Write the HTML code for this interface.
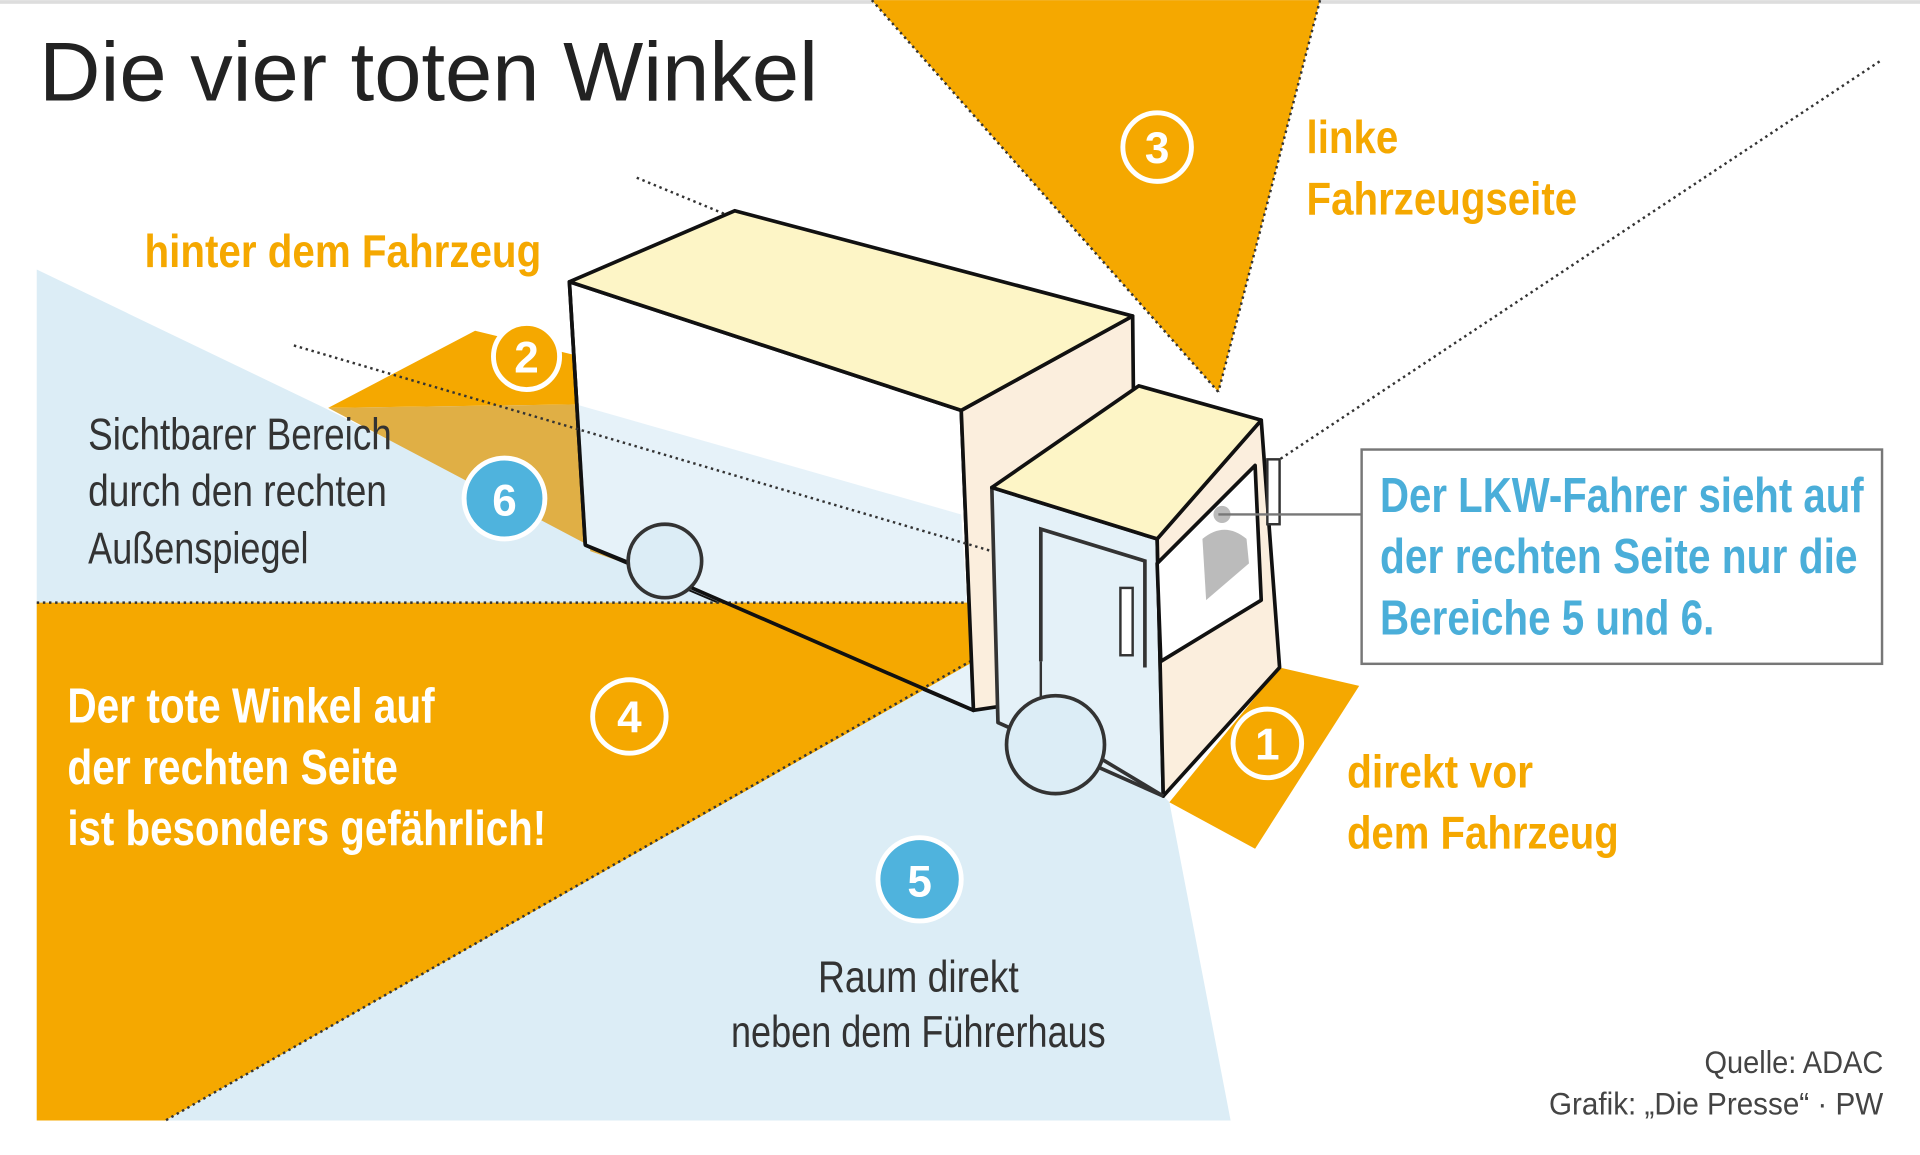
<!DOCTYPE html>
<html><head><meta charset="utf-8"><style>
html,body{margin:0;padding:0;background:#fff;}
svg{display:block;}
text{font-family:"Liberation Sans Narrow","Liberation Sans",sans-serif;}
</style></head><body>
<svg width="1920" height="1155" viewBox="0 0 1568 943" xmlns="http://www.w3.org/2000/svg">
<rect x="0" y="0" width="1568" height="943" fill="#fff"/>
<rect x="0" y="0" width="1568" height="3" fill="#ddd"/>
<polygon points="30,220 265,333 480,440 820,510 955,655 1005,915 30,915" fill="#dcedf6"/>
<polygon points="268,333 388,270 470,290 478,330" fill="#f5a800"/>
<polygon points="268,333 478,330 482,450 505,458" fill="#e0af45"/>
<polygon points="712,0 1078,0 995,320" fill="#f5a800"/>
<line x1="712" y1="0" x2="995" y2="320" stroke="#333" stroke-width="2" stroke-dasharray="2,3"/>
<line x1="1078" y1="0" x2="995" y2="320" stroke="#333" stroke-width="2" stroke-dasharray="2,3"/>
<polygon points="955,655 1045,545 1110,560 1025,693" fill="#f5a800"/>
<line x1="520" y1="145" x2="600" y2="178" stroke="#333" stroke-width="2" stroke-dasharray="2,3"/>
<line x1="1535" y1="50" x2="1030" y2="385" stroke="#333" stroke-width="2" stroke-dasharray="2,3"/>
<!-- truck box side -->
<polygon points="465,230 785,335 795,580 478,445" fill="#fff" stroke="#111" stroke-width="3" stroke-linejoin="round"/>
<polygon points="470,330 785,420 795,580 478,445" fill="#dcedf6" opacity="0.7"/>
<!-- orange 4 -->
<polygon points="30,492 880,492 135,915 30,915" fill="#f5a800"/>
<line x1="30" y1="492" x2="880" y2="492" stroke="#333" stroke-width="2" stroke-dasharray="2,3"/>
<line x1="880" y1="490" x2="135" y2="915" stroke="#333" stroke-width="2" stroke-dasharray="2,3"/>
<!-- box front & top -->
<polygon points="785,335 925,258 928,560 795,580" fill="#fbeedd" stroke="#111" stroke-width="3" stroke-linejoin="round"/>
<polygon points="465,230 600,172 925,258 785,335" fill="#fdf5c6" stroke="#111" stroke-width="3" stroke-linejoin="round"/>
<line x1="465" y1="230" x2="478" y2="445" stroke="#111" stroke-width="3"/>
<line x1="478" y1="445" x2="515" y2="460" stroke="#111" stroke-width="3"/>
<line x1="240" y1="282" x2="905" y2="478" stroke="#333" stroke-width="2" stroke-dasharray="2,3"/>
<circle cx="543" cy="458" r="30" fill="#dcedf6" stroke="#333" stroke-width="3"/>
<line x1="565" y1="480" x2="795" y2="580" stroke="#111" stroke-width="3"/>
<!-- cab -->
<polygon points="810,398 945,440 950,650 815,590" fill="#e4f1f8" stroke="#333" stroke-width="3" stroke-linejoin="round"/>
<polygon points="945,440 1030,343 1045,545 950,650" fill="#fbeedd" stroke="#111" stroke-width="3" stroke-linejoin="round"/>
<polygon points="810,398 930,315 1030,343 945,440" fill="#fdf5c6" stroke="#111" stroke-width="3" stroke-linejoin="round"/>
<polygon points="945,460 1025,380 1030,490 948,540" fill="#fff" stroke="#111" stroke-width="3" stroke-linejoin="round"/>
<circle cx="998" cy="420" r="7" fill="#bbb"/>
<path d="M982,440 Q1000,425 1018,440 L1020,460 L985,490 Z" fill="#bbb"/>
<polyline points="850,540 850,432 935,458 935,545" fill="none" stroke="#333" stroke-width="3"/>
<rect x="915" y="480" width="10" height="55" fill="#fff" stroke="#333" stroke-width="2"/>
<rect x="1035" y="375" width="10" height="53" fill="#fff" stroke="#333" stroke-width="2"/>
<line x1="850" y1="540" x2="850" y2="570" stroke="#333" stroke-width="2"/>
<circle cx="862" cy="608" r="40" fill="#dcedf6" stroke="#333" stroke-width="3"/>
<line x1="900" y1="620" x2="950" y2="650" stroke="#333" stroke-width="3"/>
<line x1="995" y1="420" x2="1112" y2="420" stroke="#777" stroke-width="2"/>
<rect x="1112" y="367" width="425" height="175" fill="#fff" stroke="#777" stroke-width="2"/>
<g font-weight="bold" fill="#4aaed9" font-size="40">
<text x="1127" y="418" textLength="395" lengthAdjust="spacingAndGlyphs">Der LKW-Fahrer sieht auf</text>
<text x="1127" y="468" textLength="390" lengthAdjust="spacingAndGlyphs">der rechten Seite nur die</text>
<text x="1127" y="518" textLength="273" lengthAdjust="spacingAndGlyphs">Bereiche 5 und 6.</text>
</g>
<g font-weight="bold" font-size="36" text-anchor="middle">
<circle cx="945" cy="120" r="28" fill="none" stroke="#fff" stroke-width="4"/>
<text x="945" y="133" fill="#fff">3</text>
<circle cx="430" cy="291" r="27" fill="#f5a800" stroke="#fff" stroke-width="4"/>
<text x="430" y="304" fill="#fff">2</text>
<circle cx="412" cy="407" r="33" fill="#4fb3dd" stroke="#fff" stroke-width="4"/>
<text x="412" y="421" fill="#fff">6</text>
<circle cx="514" cy="585" r="30" fill="none" stroke="#fff" stroke-width="4"/>
<text x="514" y="598" fill="#fff">4</text>
<circle cx="751" cy="718" r="34" fill="#4fb3dd" stroke="#fff" stroke-width="4"/>
<text x="751" y="732" fill="#fff">5</text>
<circle cx="1035" cy="607" r="28" fill="none" stroke="#fff" stroke-width="4"/>
<text x="1035" y="620" fill="#fff">1</text>
</g>
<text x="32" y="82" font-size="68" fill="#222" textLength="636" lengthAdjust="spacingAndGlyphs">Die vier toten Winkel</text>
<g fill="#f5a800" font-weight="bold" font-size="38">
<text x="118" y="218" textLength="324" lengthAdjust="spacingAndGlyphs">hinter dem Fahrzeug</text>
<text x="1067" y="125" textLength="75" lengthAdjust="spacingAndGlyphs">linke</text>
<text x="1067" y="175" textLength="221" lengthAdjust="spacingAndGlyphs">Fahrzeugseite</text>
<text x="1100" y="643" textLength="152" lengthAdjust="spacingAndGlyphs">direkt vor</text>
<text x="1100" y="693" textLength="222" lengthAdjust="spacingAndGlyphs">dem Fahrzeug</text>
</g>
<g fill="#333" font-size="36">
<text x="72" y="367" textLength="248" lengthAdjust="spacingAndGlyphs">Sichtbarer Bereich</text>
<text x="72" y="413" textLength="244" lengthAdjust="spacingAndGlyphs">durch den rechten</text>
<text x="72" y="460" textLength="180" lengthAdjust="spacingAndGlyphs">Außenspiegel</text>
<text x="668" y="810" textLength="164" lengthAdjust="spacingAndGlyphs">Raum direkt</text>
<text x="597" y="855" textLength="306" lengthAdjust="spacingAndGlyphs">neben dem Führerhaus</text>
</g>
<g fill="#fff" font-weight="bold" font-size="40">
<text x="55" y="590" textLength="300" lengthAdjust="spacingAndGlyphs">Der tote Winkel auf</text>
<text x="55" y="640" textLength="270" lengthAdjust="spacingAndGlyphs">der rechten Seite</text>
<text x="55" y="690" textLength="391" lengthAdjust="spacingAndGlyphs">ist besonders gefährlich!</text>
</g>
<g fill="#444" font-size="26">
<text x="1392" y="876" textLength="146" lengthAdjust="spacingAndGlyphs">Quelle: ADAC</text>
<text x="1265" y="910" textLength="273" lengthAdjust="spacingAndGlyphs">Grafik: „Die Presse“ · PW</text>
</g>
</svg>
</body></html>
